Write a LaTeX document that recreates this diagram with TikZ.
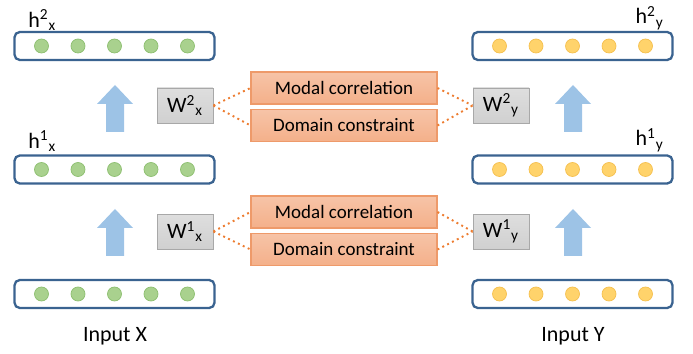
\documentclass[tikz,border=0pt]{standalone}
\usepackage{fontspec}
\setmainfont{Carlito}
\usepackage{xcolor}
\usetikzlibrary{positioning, calc}

\definecolor{layerblue}{HTML}{3A6390}
\definecolor{greendot}{HTML}{A9D18E}
\definecolor{greenedge}{HTML}{8DBF70}
\definecolor{yellowdot}{HTML}{FFD36B}
\definecolor{yellowedge}{HTML}{F5C04F}
\definecolor{arrowblue}{HTML}{9DC3E6}
\definecolor{wgray}{HTML}{D0D0D0}
\definecolor{wedge}{HTML}{A8A8A8}
\definecolor{lossfill}{HTML}{F4B08A}
\definecolor{lossedge}{HTML}{EE9A6A}
\definecolor{dotline}{HTML}{ED7D31}

\begin{document}
\begin{tikzpicture}[
        x=0.02cm, y=-0.02cm,
        layer/.style={rectangle, rounded corners=3pt, draw=layerblue, line width=1.3pt, minimum width=4.0cm, minimum height=0.56cm, inner sep=0pt},
        gdot/.style={circle, fill=greendot, draw=greenedge, line width=0.4pt, minimum size=0.28cm, inner sep=0pt},
        ydot/.style={circle, fill=yellowdot, draw=yellowedge, line width=0.4pt, minimum size=0.28cm, inner sep=0pt},
        wbox/.style={rectangle, top color=wgray!70, bottom color=wgray, draw=wedge, line width=0.5pt, minimum width=1.12cm, minimum height=0.7cm, inner sep=0pt, font=\fontsize{12.5}{14}\selectfont},
        loss/.style={rectangle, top color=lossfill!75, bottom color=lossfill, draw=lossedge, line width=0.6pt, minimum width=3.72cm, minimum height=0.64cm, inner sep=0pt, font=\fontsize{10.8}{13}\selectfont},
        lbl/.style={font=\fontsize{12.5}{14}\selectfont, inner sep=0pt},
        link/.style={dotline, line width=1.1pt, dotted}
    ]
        \useasboundingbox (0,0) rectangle (693,354);

        % layers of the X branch
        \node[layer] (x2) at (114.5,46) {};
        \node[layer] (x1) at (114.5,169.5) {};
        \node[layer] (x0) at (114.5,294) {};
        % layers of the Y branch
        \node[layer] (y2) at (572.5,46) {};
        \node[layer] (y1) at (572.5,169.5) {};
        \node[layer] (y0) at (572.5,294) {};

        % units
        \foreach \l in {x2, x1, x0} {
            \foreach \k in {-2,...,2}
                \node[gdot] (\l u\k) at ($(\l.center)+(\k*36.5,0)$) {};
        }
        \foreach \l in {y2, y1, y0} {
            \foreach \k in {-2,...,2}
                \node[ydot] (\l u\k) at ($(\l.center)+(\k*36.5,0)$) {};
        }

        % layer names
        \node[lbl, anchor=west] (hx2) at (28,20) {h\textsuperscript{2}\textsubscript{x}};
        \node[lbl, anchor=west] (hx1) at (28,141) {h\textsuperscript{1}\textsubscript{x}};
        \node[lbl, anchor=east] (hy2) at (664,18) {h\textsuperscript{2}\textsubscript{y}};
        \node[lbl, anchor=east] (hy1) at (664,140) {h\textsuperscript{1}\textsubscript{y}};
        \node[lbl] (inx) at (115,336) {Input X};
        \node[lbl] (iny) at (573,336) {Input Y};

        % upward arrows
        \foreach \cx/\ty in {115/85, 115/209, 573/85, 573/209}
            \fill[arrowblue] (\cx,\ty) -- (\cx+18,\ty+19) -- (\cx+9,\ty+19) -- (\cx+9,\ty+47)
                -- (\cx-9,\ty+47) -- (\cx-9,\ty+19) -- (\cx-18,\ty+19) -- cycle;

        % weights
        \node[wbox] (wx2) at (185,105.5) {W\textsuperscript{2}\textsubscript{x}};
        \node[wbox] (wx1) at (185,231.5) {W\textsuperscript{1}\textsubscript{x}};
        \node[wbox] (wy2) at (501,105.5) {W\textsuperscript{2}\textsubscript{y}};
        \node[wbox] (wy1) at (501,231.5) {W\textsuperscript{1}\textsubscript{y}};

        % objectives
        \node[loss] (mc2) at (344,88) {Modal correlation};
        \node[loss] (dc2) at (344,125.5) {Domain constraint};
        \node[loss] (mc1) at (344,212) {Modal correlation};
        \node[loss] (dc1) at (344,249.5) {Domain constraint};

        % dotted links
        \draw[link] (wx2.east) -- (mc2.west);
        \draw[link] (wx2.east) -- (dc2.west);
        \draw[link] (mc2.east) -- (wy2.west);
        \draw[link] (dc2.east) -- (wy2.west);
        \draw[link] (wx1.east) -- (mc1.west);
        \draw[link] (wx1.east) -- (dc1.west);
        \draw[link] (mc1.east) -- (wy1.west);
        \draw[link] (dc1.east) -- (wy1.west);
    \end{tikzpicture}
\end{document}
